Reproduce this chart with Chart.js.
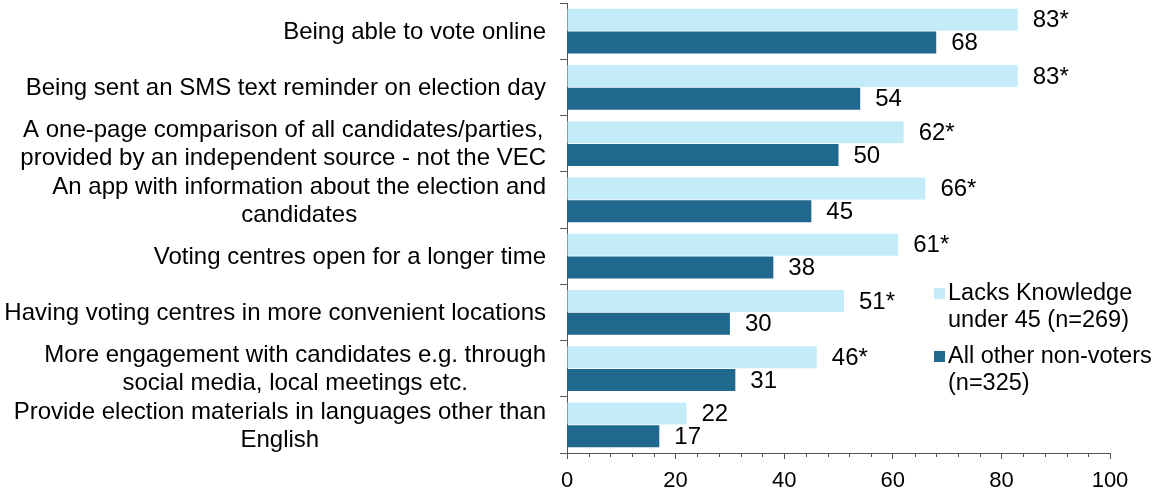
<!DOCTYPE html>
<html>
<head>
<title>Non-voter incentives</title>
<script src="https://cdn.jsdelivr.net/npm/chart.js"></script>
<style>
body {
    margin:0;
    background:#ffffff;
}
#wrap {
    position:relative;
    width:1153px;
    height:490px;
}
</style>
</head>
<body>

<div id="wrap">
<canvas id="chart" width="1153" height="490"></canvas>
</div>

<script>
// ---------------- DATA ----------------
const categories = [
    ["Being able to vote online"],
    ["Being sent an SMS text reminder on election day"],
    ["A one-page comparison of all candidates/parties,", "provided by an independent source - not the VEC"],
    ["An app with information about the election and", "candidates"],
    ["Voting centres open for a longer time"],
    ["Having voting centres in more convenient locations"],
    ["More engagement with candidates e.g. through", "social media, local meetings etc."],
    ["Provide election materials in languages other than", "English"]
];
const lacksKnowledge = [83, 83, 62, 66, 61, 51, 46, 22];
const lacksSignificant = [true, true, true, true, true, true, true, false];
const otherNonVoters = [68, 54, 50, 45, 38, 30, 31, 17];
const otherSignificant = [false, false, false, false, false, false, false, false];
const seriesNames = [
    ["Lacks Knowledge", "under 45 (n=269)"],
    ["All other non-voters", "(n=325)"]
];
const xMin = 0, xMax = 100, xStep = 20, xMinorStep = 4;

// ---------------- STYLE ----------------
const LIGHT = "#C4ECF8";
const DARK = "#21688E";
const AXIS = "#555555";
const FONT = "Arial, 'Liberation Sans', sans-serif";

// ---------------- PLUGINS ----------------
// y labels: block right aligned, lines centred inside block (Excel style)
const categoryLabels = {
    id:"categoryLabels",
    afterDraw(chart){
        const ctx = chart.ctx;
        const y = chart.scales.y;
        ctx.save();
        ctx.font = "24px " + FONT;
        ctx.fillStyle = "#000";
        ctx.textAlign = "center";
        ctx.textBaseline = "middle";
        const lh = 28;
        categories.forEach((lines, i)=>{
            let w = Math.max(...lines.map(l => ctx.measureText(l).width));
            let cx = y.right - 21 - w/2;
            let cy = y.getPixelForTick(i);
            lines.forEach((l, j)=>{
                ctx.fillText(l, cx, cy + (j - (lines.length-1)/2)*lh + 1);
            });
        });
        ctx.restore();
    }
};

// value labels at bar ends
const valueLabels = {
    id:"valueLabels",
    afterDatasetsDraw(chart){
        const ctx = chart.ctx;
        const flags = [lacksSignificant, otherSignificant];
        ctx.save();
        ctx.font = "24px " + FONT;
        ctx.fillStyle = "#000";
        ctx.textAlign = "left";
        ctx.textBaseline = "middle";
        chart.data.datasets.forEach((ds, d)=>{
            chart.getDatasetMeta(d).data.forEach((bar, i)=>{
                let txt = ds.data[i] + (flags[d][i] ? "*" : "");
                ctx.fillText(txt, bar.x + 15, bar.y + 1);
            });
        });
        ctx.restore();
    }
};

// minor ticks on the value axis
const minorTicks = {
    id:"minorTicks",
    afterDraw(chart){
        const ctx = chart.ctx;
        const x = chart.scales.x;
        ctx.save();
        ctx.strokeStyle = AXIS;
        ctx.lineWidth = 1;
        ctx.beginPath();
        for(let v = xMin; v <= xMax; v += xMinorStep){
            if(v % xStep === 0) continue;
            let px = Math.round(x.getPixelForValue(v)) + 0.5;
            ctx.moveTo(px, x.top);
            ctx.lineTo(px, x.top + 4);
        }
        ctx.stroke();
        ctx.restore();
    }
};

// legend inside the plot, right side
const sideLegend = {
    id:"sideLegend",
    afterDraw(chart){
        const ctx = chart.ctx;
        const items = [
            {color:LIGHT, top:294},
            {color:DARK, top:357}
        ];
        ctx.save();
        ctx.font = "23.5px " + FONT;
        ctx.textAlign = "left";
        ctx.textBaseline = "middle";
        items.forEach((it, k)=>{
            ctx.fillStyle = it.color;
            ctx.fillRect(934, it.top - 6, 11, 11);
            ctx.fillStyle = "#000";
            seriesNames[k].forEach((l, j)=>{
                ctx.fillText(l, 948, it.top + j*27);
            });
        });
        ctx.restore();
    }
};

// ---------------- CHART ----------------
new Chart(document.getElementById("chart"), {
    type:"bar",
    data:{
        labels:categories.map(c => c.join(" ")),
        datasets:[
            {label:seriesNames[0].join(" "), data:lacksKnowledge, backgroundColor:LIGHT,
             categoryPercentage:0.817, barPercentage:0.957},
            {label:seriesNames[1].join(" "), data:otherNonVoters, backgroundColor:DARK,
             categoryPercentage:0.817, barPercentage:0.957}
        ]
    },
    options:{
        indexAxis:"y",
        responsive:false,
        animation:false,
        layout:{ padding:{ top:3, right:43, bottom:0, left:0 } },
        plugins:{
            legend:{ display:false },
            tooltip:{ enabled:false }
        },
        scales:{
            x:{
                min:xMin, max:xMax,
                ticks:{ stepSize:xStep, color:"#000", font:{ family:FONT, size:22 }, padding:9 },
                grid:{ drawOnChartArea:false, tickLength:6, color:AXIS },
                border:{ color:AXIS },
                afterFit(s){ s.height = 37; }
            },
            y:{
                ticks:{ display:false },
                grid:{ drawOnChartArea:false, tickLength:7, color:AXIS, offset:true },
                border:{ color:AXIS },
                afterFit(s){ s.width = 567; }
            }
        }
    },
    plugins:[categoryLabels, valueLabels, minorTicks, sideLegend]
});
</script>

</body>
</html>
